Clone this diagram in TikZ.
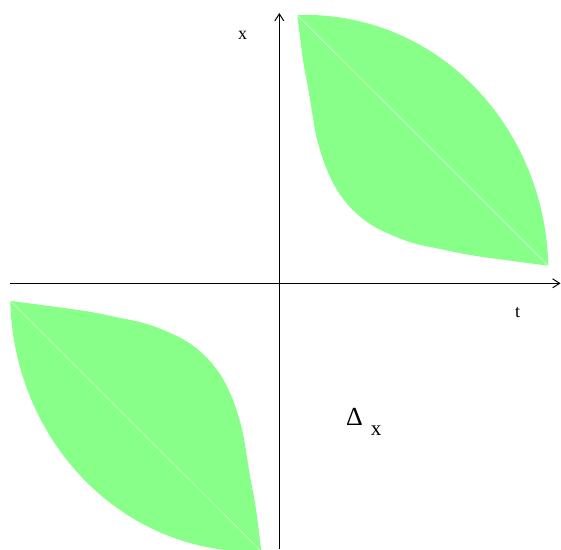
\documentclass[tikz,border=0pt]{standalone}
\usepackage{fontspec}
\setmainfont{Liberation Serif}
\usetikzlibrary{arrows.meta}
\definecolor{leafgreen}{RGB}{136,255,136}
\tikzset{
  leaf/.style={fill=leafgreen, draw=none},
  diag/.style={draw=white, line width=0.5pt, opacity=0.7},
  axis/.style={line width=1.1pt, -{Straight Barb[length=7pt,width=9pt,line width=1pt]}},
  lbl/.style={anchor=base, inner sep=0pt, font=\fontsize{18}{18}\selectfont}
}
\newcommand{\myleafshape}{%
  \fill[leaf] (297.3,15) .. controls (437,10.8) and (545,126) .. (548.3,265.7)
    plot[smooth, tension=0.6] coordinates {(548.3,265.7) (505,260) (470,255) (440,249) (413,243) (387,233) (367,222) (350,207) (337,190) (327,170) (320,150) (315,130) (309,93) (303,60) (297.3,15)} -- cycle;
  \draw[diag] (297.3,15) -- (548.3,265.7);
}
\begin{document}
\begin{tikzpicture}[x=1pt,y=-1pt]
\useasboundingbox (0,0) rectangle (561,549);
\coordinate (O) at (279.3,283.3);
\myleafshape
\begin{scope}[rotate around={180:(279.3,283.3)}]
\myleafshape
\end{scope}
\coordinate (hl) at (10,283.3);
\coordinate (hr) at (560.5,283.3);
\coordinate (vb) at (279.3,549);
\coordinate (vt) at (279.3,13);
\draw[axis] (hl) -- (hr);
\draw[axis] (vb) -- (vt);
\node[lbl] (xlab) at (242.5,39) {x};
\node[lbl] (tlab) at (517.5,317) {t};
\node[anchor=base west, inner sep=0pt] (delta) at (346,425) {\fontsize{26}{26}\selectfont Δ\hspace{8pt}\raisebox{-10pt}{\fontsize{21}{21}\selectfont x}};
\end{tikzpicture}
\end{document}
